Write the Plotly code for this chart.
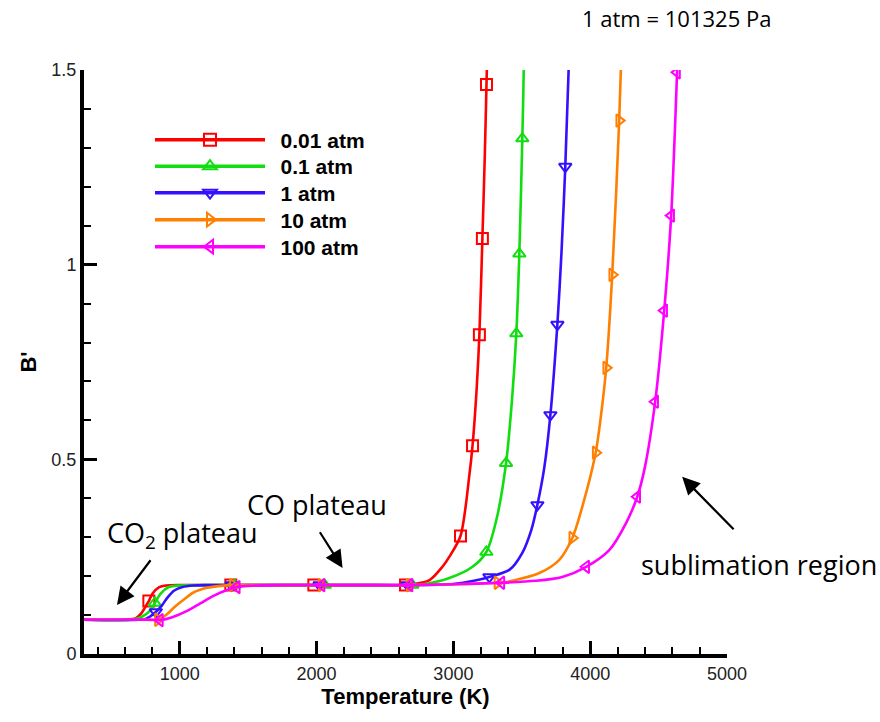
import plotly.graph_objects as go

# ---------------- data ----------------
series_names = ["0.01 atm", "0.1 atm", "1 atm", "10 atm", "100 atm"]

# curve points (temperature K, B')
red_T = [300, 600, 680, 720, 760, 800, 850, 900, 1000, 1200, 1700, 2300, 2700, 2826, 2920, 2971, 3117, 3170, 3230, 3255]
red_B = [0.088, 0.088, 0.092, 0.105, 0.128, 0.155, 0.172, 0.176, 0.177, 0.177, 0.177, 0.177, 0.179, 0.19, 0.224, 0.25, 0.46, 0.68, 1.285, 1.65]
red_mT = [774, 1373, 1980, 2650, 3052, 3140, 3190, 3212, 3242]
red_mB = [0.136, 0.177, 0.177, 0.177, 0.303, 0.535, 0.82, 1.067, 1.463]

green_T = [300, 650, 720, 780, 860, 920, 1000, 1200, 1700, 2300, 2800, 2971, 3140, 3314, 3430, 3515, 3530]
green_B = [0.088, 0.088, 0.095, 0.11, 0.155, 0.172, 0.176, 0.177, 0.177, 0.177, 0.18, 0.195, 0.224, 0.344, 0.66, 1.51, 1.8]
green_mT = [818, 1400, 2060, 2700, 3241, 3385, 3460, 3482, 3504]
green_mB = [0.131, 0.177, 0.177, 0.177, 0.262, 0.49, 0.823, 1.028, 1.324]

blue_T = [300, 700, 750, 870, 910, 960, 1020, 1100, 1200, 1700, 2300, 3000, 3150, 3409, 3504, 3570, 3665, 3790, 3860]
blue_B = [0.088, 0.088, 0.09, 0.125, 0.145, 0.163, 0.172, 0.176, 0.177, 0.177, 0.177, 0.18, 0.188, 0.216, 0.26, 0.319, 0.48, 1.03, 1.68]
blue_mT = [825, 1380, 2022, 2665, 3263, 3614, 3709, 3760, 3818]
blue_mB = [0.108, 0.177, 0.177, 0.177, 0.198, 0.383, 0.614, 0.846, 1.252]

orange_T = [300, 750, 900, 960, 1030, 1100, 1200, 1300, 1700, 2300, 3000, 3388, 3628, 3774, 3942, 4080, 4240]
orange_B = [0.088, 0.088, 0.1, 0.12, 0.14, 0.158, 0.17, 0.175, 0.177, 0.177, 0.179, 0.185, 0.208, 0.242, 0.378, 0.616, 1.67]
orange_mT = [840, 1388, 2037, 2680, 3322, 3869, 4040, 4117, 4161, 4212]
orange_mB = [0.088, 0.177, 0.177, 0.177, 0.183, 0.298, 0.517, 0.735, 0.974, 1.37]

magenta_T = [300, 800, 950, 1050, 1150, 1250, 1350, 1500, 1700, 2300, 3000, 3600, 3796, 4139, 4263, 4400, 4660]
magenta_B = [0.088, 0.088, 0.095, 0.11, 0.13, 0.15, 0.165, 0.175, 0.177, 0.177, 0.179, 0.188, 0.198, 0.267, 0.337, 0.48, 1.76]
magenta_mT = [855, 1417, 2037, 2680, 3351, 3971, 4344, 4475, 4541, 4592, 4635]
magenta_mB = [0.087, 0.172, 0.177, 0.177, 0.183, 0.224, 0.404, 0.648, 0.882, 1.126, 1.494]

x_ticks = [1000, 2000, 3000, 4000, 5000]
y_ticks = [0, 0.5, 1, 1.5]
y_tick_labels = ["0", "0.5", "1", "1.5"]

# ---------------- styling ----------------
colors = ["#ff0000", "#11dd11", "#3311ff", "#ff7f00", "#ff00ff"]
symbols = ["square-open", "triangle-up-open", "triangle-down-open", "triangle-right-open", "triangle-left-open"]

curves = [(red_T, red_B, red_mT, red_mB), (green_T, green_B, green_mT, green_mB),
          (blue_T, blue_B, blue_mT, blue_mB), (orange_T, orange_B, orange_mT, orange_mB),
          (magenta_T, magenta_B, magenta_mT, magenta_mB)]

fig = go.Figure()
for (cT, cB, mT, mB), col, sym in zip(curves, colors, symbols):
    pts = sorted(zip(cT + mT, cB + mB))
    fig.add_trace(go.Scatter(x=[p[0] for p in pts], y=[p[1] for p in pts], mode="lines",
                             line=dict(color=col, width=2.6, shape="spline", smoothing=0.8),
                             showlegend=False, hoverinfo="skip"))
    fig.add_trace(go.Scatter(x=mT, y=mB, mode="markers",
                             marker=dict(symbol=sym, size=11, color=col, line=dict(color=col, width=2)),
                             showlegend=False))

legend_rows_px = [140, 166.5, 193, 220, 247]
legend_names = ["legend", "legend2", "legend3", "legend4", "legend5"]
for name, col, sym, lg in zip(series_names, colors, symbols, legend_names):
    fig.add_trace(go.Scatter(x=[None], y=[None], mode="lines+markers", name="<b>\u2002" + name + "</b>",
                             legend=lg,
                             line=dict(color=col, width=3.5),
                             marker=dict(symbol=sym, size=12, color=col, line=dict(color=col, width=2))))

tick_font = dict(family="Liberation Sans Narrow, Arial Narrow, Liberation Sans, Arial", size=18, color="#222")
title_font = dict(family="Liberation Sans, Arial", size=22, color="black")

fig.update_xaxes(range=[300, 5000], tickvals=x_ticks, ticks="inside", ticklen=13, tickwidth=3,
                 tickcolor="black", showline=True, linecolor="black", linewidth=4,
                 showgrid=False, zeroline=False, tickfont=tick_font,
                 minor=dict(dtick=200, tick0=0, ticks="inside", ticklen=7, tickwidth=1.5, tickcolor="black", showgrid=False),
                 title=dict(text="<b>Temperature (K)</b>", font=title_font, standoff=7))
fig.update_yaxes(range=[0, 1.5], tickvals=y_ticks, ticktext=y_tick_labels, ticks="inside", ticklen=13, tickwidth=3,
                 tickcolor="black", showline=True, linecolor="black", linewidth=4,
                 showgrid=False, zeroline=False, tickfont=tick_font,
                 minor=dict(dtick=0.1, tick0=0, ticks="inside", ticklen=7, tickwidth=1.5, tickcolor="black", showgrid=False),
                 title=dict(text="<b>B'</b>", font=title_font, standoff=10))

ann_font = dict(family="Open Sans, Lato, sans-serif", size=27, color="black")
arrow_style = dict(text="", showarrow=True, arrowhead=2, arrowsize=1.6, arrowwidth=2.2, arrowcolor="black",
                   axref="x", ayref="y", font=dict(size=1), borderpad=0)
annotations = [
    dict(x=0.771, y=1.089, xref="paper", yref="paper", text="1 atm = 101325 Pa", showarrow=False,
         font=dict(family="Open Sans, Lato, sans-serif", size=22, color="black"),
         xanchor="left", yanchor="middle"),
    dict(x=453, y=0.306, text="CO<sub>2</sub> plateau", showarrow=False, font=ann_font, xanchor="left", yanchor="middle"),
    dict(x=1475, y=0.383, text="CO plateau", showarrow=False, font=ann_font, xanchor="left", yanchor="middle"),
    dict(x=4358, y=0.229, text="sublimation region", showarrow=False, font=ann_font, xanchor="left", yanchor="middle"),
    dict(x=541, y=0.126, ax=789, ay=0.242, **arrow_style),
    dict(x=2190, y=0.221, ax=2022, ay=0.314, **arrow_style),
    dict(x=4672, y=0.455, ax=5052, ay=0.319, **arrow_style),
]

layout_legends = {}
for lg, ypx in zip(legend_names, legend_rows_px):
    layout_legends[lg] = dict(x=(150 - 84) / 643, y=(654 - ypx) / 584, xanchor="left", yanchor="middle",
                              bgcolor="rgba(0,0,0,0)", itemwidth=110,
                              font=dict(family="Liberation Sans, Arial", size=21, color="black"))

fig.update_layout(
    width=880, height=722,
    margin=dict(l=84, r=153, t=70, b=68),
    paper_bgcolor="white", plot_bgcolor="white",
    annotations=annotations,
    showlegend=True,
    **layout_legends,
)

fig.write_html("out.html")
